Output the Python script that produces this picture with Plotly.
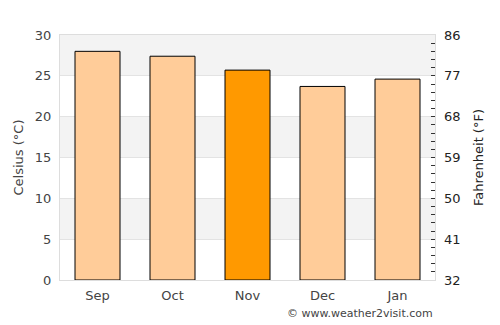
import plotly.graph_objects as go

months = ["Sep", "Oct", "Nov", "Dec", "Jan"]
celsius = [28.0, 27.4, 25.7, 23.7, 24.6]
highlight = "Nov"
c_ticks = [0, 5, 10, 15, 20, 25, 30]
f_ticks = [32, 41, 50, 59, 68, 77, 86]

colors = ["#ff9900" if m == highlight else "#ffcc99" for m in months]

fig = go.Figure()
fig.add_trace(go.Bar(x=months, y=celsius, marker=dict(color=colors, line=dict(color="#000000", width=1)),
                     width=0.6, hoverinfo="x+y"))
fig.add_trace(go.Scatter(x=months, y=[c * 9 / 5 + 32 for c in celsius], yaxis="y2",
                         mode="markers", marker=dict(opacity=0), hoverinfo="skip", showlegend=False))

shapes = []
for lo in range(0, 30, 5):
    if (lo // 5) % 2 == 1:
        shapes.append(dict(type="rect", xref="paper", yref="y", x0=0, x1=1, y0=lo, y1=lo + 5,
                           fillcolor="#f3f3f3", line=dict(width=0), layer="below"))

font = dict(family="DejaVu Sans", size=13, color="#444444")
fig.update_layout(
    width=500, height=325, margin=dict(l=60, r=65, t=35, b=45),
    paper_bgcolor="white", plot_bgcolor="white", showlegend=False, bargap=0.4,
    font=font, shapes=shapes,
    xaxis=dict(showgrid=False, showline=True, linecolor="#dddddd", mirror=True, ticks="",
               ticklabelstandoff=3, tickfont=dict(size=13, color="#444444")),
    yaxis=dict(range=[0, 30], tickvals=c_ticks, showgrid=True, gridcolor="#e3e3e3", showline=True,
               linecolor="#dddddd", mirror=True, zeroline=False, ticks="", ticklabelstandoff=5,
               title=dict(text="Celsius (°C)", font=dict(size=13, color="#444444"), standoff=8),
               tickfont=dict(size=13, color="#444444")),
    yaxis2=dict(range=[32, 86], tickvals=f_ticks, overlaying="y", side="right", showgrid=False,
                zeroline=False, ticks="inside", ticklen=4, tickcolor="#333333", ticklabelstandoff=8,
                minor=dict(dtick=1.8, tick0=32, ticks="inside", ticklen=4, tickcolor="#333333"),
                title=dict(text="Fahrenheit (°F)", font=dict(size=13, color="#222222"), standoff=14),
                tickfont=dict(size=13, color="#222222")),
    annotations=[dict(text="© www.weather2visit.com", xref="paper", yref="paper", x=1, y=-0.135,
                      xanchor="right", yanchor="middle", showarrow=False,
                      font=dict(family="DejaVu Sans", size=11, color="#444444"))],
)
fig.write_html("out.html")
